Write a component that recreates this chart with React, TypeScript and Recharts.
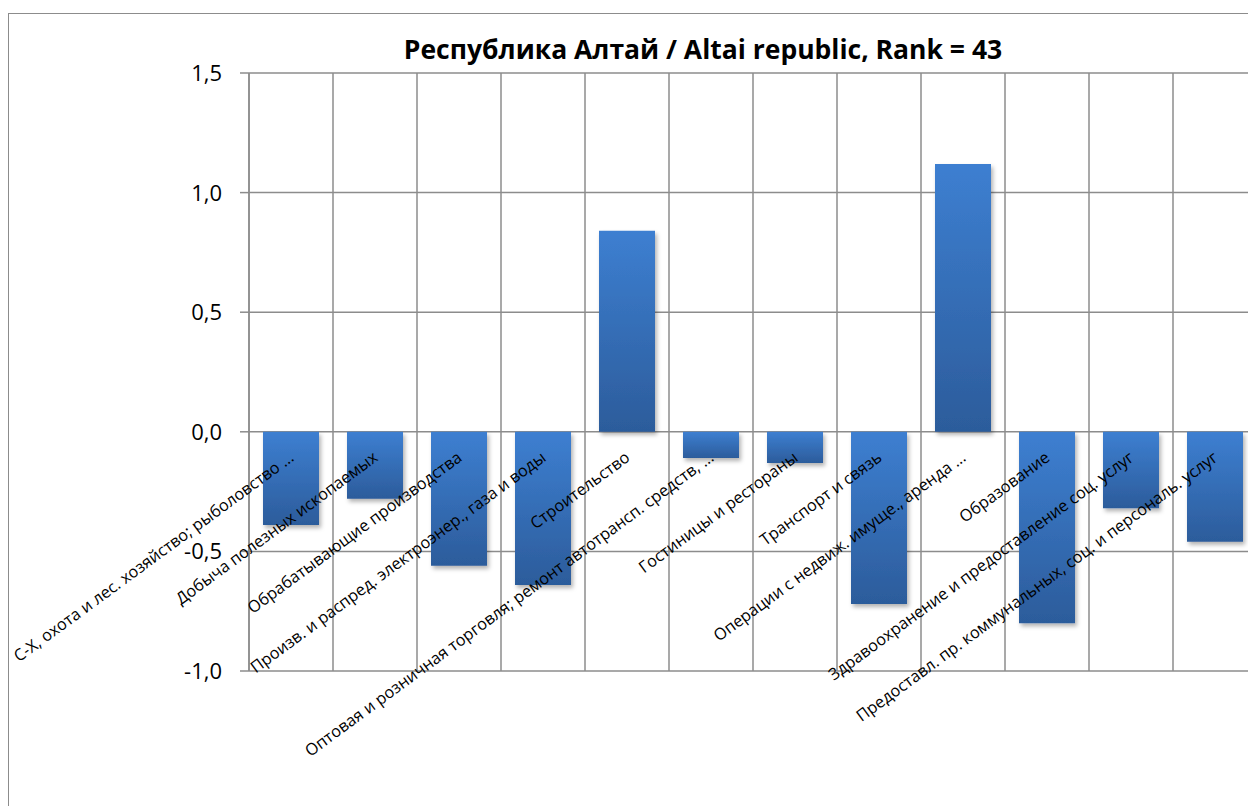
import React from "react";
import { BarChart, Bar, XAxis, YAxis, CartesianGrid, ReferenceDot, Customized } from "recharts";

// Economic sectors (category axis)
const sectors: string[] = [
  "С-Х, охота и лес. хозяйство; рыболовство ...",
  "Добыча полезных ископаемых",
  "Обрабатывающие производства",
  "Произв. и распред. электроэнер., газа и воды",
  "Строительство",
  "Оптовая и розничная торговля; ремонт автотрансп. средств, ...",
  "Гостиницы и рестораны",
  "Транспорт и связь",
  "Операции с недвиж. имуще., аренда ...",
  "Образование",
  "Здравоохранение и предоставление соц. услуг",
  "Предоставл. пр. коммунальных, соц. и персональ. услуг",
];

// Sector values
const values: number[] = [-0.39, -0.28, -0.56, -0.64, 0.84, -0.11, -0.13, -0.72, 1.12, -0.8, -0.32, -0.46];

// Value axis ticks
const yTicks: number[] = [-1, -0.5, 0, 0.5, 1, 1.5];

const title = "Республика Алтай / Altai republic, Rank = 43";

const data = sectors.map((name, i) => ({ name, value: values[i] }));

const GRID = "#8c8c8c";
const LABEL_FONT = "'Open Sans', 'Noto Sans', sans-serif";

const fmt = (v: number) => v.toFixed(1).replace(".", ",");

const SectorLabel = (props: any) => {
  const { cx, cy, text } = props;
  if (cx == null || cy == null) return null;
  const x = cx + 4;
  const y = cy + 28;
  return (
    <text
      x={x}
      y={y}
      textAnchor="end"
      fontFamily={LABEL_FONT}
      fontSize={16.3}
      fill="#000"
      transform={`rotate(-36.3 ${x} ${y})`}
    >
      {text}
    </text>
  );
};

const YTick = (props: any) => {
  const { x, y, payload } = props;
  return (
    <text x={x} y={y} dy={8} textAnchor="end" fontFamily={LABEL_FONT} fontSize={22} fill="#000">
      {fmt(payload.value)}
    </text>
  );
};

const Title = () => (
  <text
    x={694}
    y={45}
    textAnchor="middle"
    fontFamily={LABEL_FONT}
    fontWeight={700}
    fontSize={26.5}
    fill="#000"
  >
    {title}
  </text>
);

export default function App() {
  return (
    <div
      style={{
        position: "fixed",
        left: 8,
        top: 13,
        width: 1239,
        height: 792,
        overflow: "hidden",
        borderLeft: `1px solid ${GRID}`,
        borderTop: `1px solid ${GRID}`,
        background: "#fff",
      }}
    >
      <BarChart
        width={1260}
        height={790}
        data={data}
        margin={{ top: 59, right: 12, bottom: 133, left: 160 }}
        barSize={56}
      >
        <defs>
          <linearGradient id="barFill" x1="0" y1="0" x2="0" y2="1">
            <stop offset="0%" stopColor="#3d7fd1" />
            <stop offset="100%" stopColor="#2c5c9b" />
          </linearGradient>
          <filter id="barShadow" x="-20%" y="-20%" width="150%" height="150%">
            <feDropShadow dx="2" dy="3" stdDeviation="2" floodColor="#000" floodOpacity="0.3" />
          </filter>
        </defs>
        <CartesianGrid
          stroke={GRID}
          strokeWidth={1.5}
          verticalCoordinatesGenerator={({ offset }: any) =>
            sectors.map((_, i) => offset.left + (offset.width * i) / sectors.length).concat(offset.left + offset.width)
          }
        />
        <XAxis dataKey="name" hide />
        <YAxis
          domain={[-1, 1.5]}
          ticks={yTicks}
          interval={0}
          width={80}
          axisLine={{ stroke: GRID, strokeWidth: 1.5 }}
          tickLine={{ stroke: GRID, strokeWidth: 1.5 }}
          tickSize={9}
          tickMargin={18}
          tick={<YTick />}
        />
        <Bar
          dataKey="value"
          fill="url(#barFill)"
          filter="url(#barShadow)"
          isAnimationActive={false}
        />
        {sectors.map((s) => (
          <ReferenceDot
            key={s}
            x={s}
            y={0}
            r={0}
            ifOverflow="visible"
            shape={(p: any) => <SectorLabel {...p} text={s} />}
          />
        ))}
        <Customized component={Title} />
      </BarChart>
    </div>
  );
}
